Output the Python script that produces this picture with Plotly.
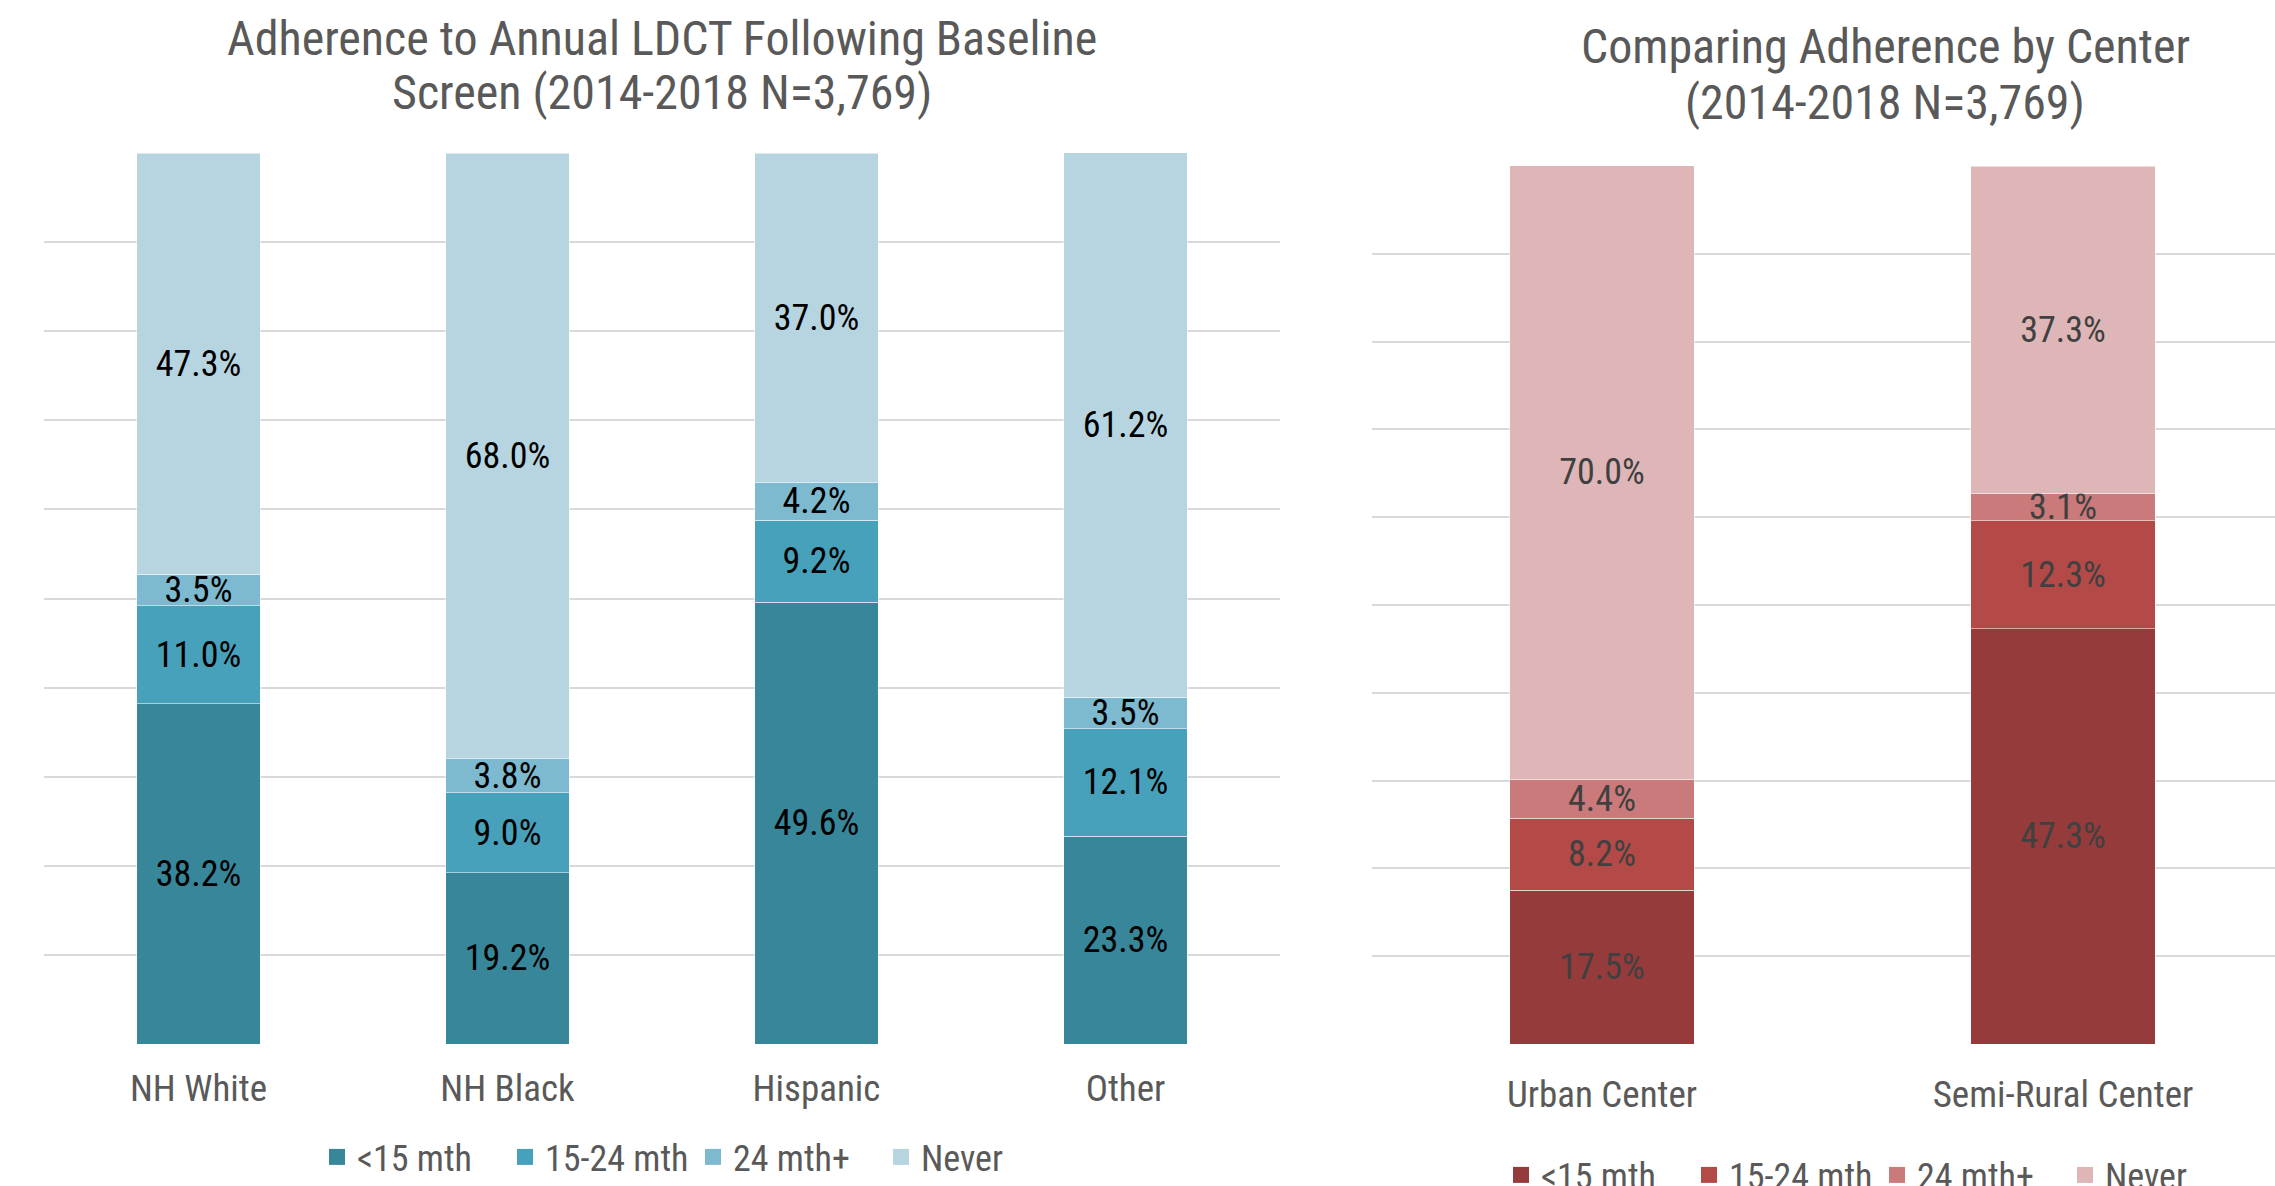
import plotly.graph_objects as go

# ---------------- data ----------------
race_categories = ["NH White", "NH Black", "Hispanic", "Other"]
center_categories = ["Urban Center", "Semi-Rural Center"]
series_names = ["<15 mth", "15-24 mth", "24 mth+", "Never"]

race_lt15 = [38.2, 19.2, 49.6, 23.3]
race_15_24 = [11.0, 9.0, 9.2, 12.1]
race_24plus = [3.5, 3.8, 4.2, 3.5]
race_never = [47.3, 68.0, 37.0, 61.2]

center_lt15 = [17.5, 47.3]
center_15_24 = [8.2, 12.3]
center_24plus = [4.4, 3.1]
center_never = [70.0, 37.3]

left_title_lines = ["Adherence to Annual LDCT Following Baseline", "Screen (2014-2018 N=3,769)"]
right_title_lines = ["Comparing Adherence by Center", "(2014-2018 N=3,769)"]

# ---------------- style ----------------
FONT = "Liberation Sans Narrow, Arial Narrow, Roboto Condensed, DejaVu Sans Condensed, sans-serif"
TEXT_GREY = "#595959"
GRID = "#D9D9D9"
teal_colors = ["#38869A", "#47A1BA", "#7DBACF", "#B7D5E0"]
red_colors = ["#963B3B", "#B34A48", "#CA7A7A", "#DEB6B7"]

W, H = 2275, 1186

fig = go.Figure()

race_series = [race_lt15, race_15_24, race_24plus, race_never]
center_series = [center_lt15, center_15_24, center_24plus, center_never]

for name, vals, col in zip(series_names, race_series, teal_colors):
    fig.add_trace(go.Bar(
        x=race_categories, y=vals, name=name,
        marker=dict(color=col, line=dict(color="rgba(255,255,255,0.5)", width=1)),
        text=[f"{v:.1f}%" for v in vals],
        textposition="inside", insidetextanchor="middle", textangle=0,
        constraintext="none",
        textfont=dict(family=FONT, size=36, color="#000000"),
        xaxis="x", yaxis="y", showlegend=False, hoverinfo="skip",
    ))
    fig.add_trace(go.Scatter(
        x=[None], y=[None], mode="markers", name=name,
        marker=dict(symbol="square", size=20, color=col),
        xaxis="x", yaxis="y", legend="legend", showlegend=True,
    ))

for name, vals, col in zip(series_names, center_series, red_colors):
    fig.add_trace(go.Bar(
        x=center_categories, y=vals, name=name,
        marker=dict(color=col, line=dict(color="rgba(255,255,255,0.5)", width=1)),
        text=[f"{v:.1f}%" for v in vals],
        textposition="inside", insidetextanchor="middle", textangle=0,
        constraintext="none",
        textfont=dict(family=FONT, size=36, color="#404040"),
        xaxis="x2", yaxis="y2", showlegend=False, hoverinfo="skip",
    ))
    fig.add_trace(go.Scatter(
        x=[None], y=[None], mode="markers", name=name,
        marker=dict(symbol="square", size=20, color=col),
        xaxis="x2", yaxis="y2", legend="legend2", showlegend=True,
    ))

left_dom = [44 / W, 1280 / W]
right_dom = [1371.5 / W, 1.0]
left_y = [(H - 1044) / H, (H - 153) / H]
right_y = [(H - 1044) / H, (H - 166) / H]

axis_x_common = dict(
    type="category", showgrid=False, zeroline=False, showline=False,
    ticks="", tickfont=dict(family=FONT, size=37, color=TEXT_GREY),
)
axis_y_common = dict(
    range=[0, 100], dtick=10, tick0=0, showgrid=True, gridcolor=GRID, gridwidth=1.5,
    zeroline=False, showline=False, showticklabels=False, ticks="",
)

legend_common = dict(
    orientation="h", xanchor="left", yanchor="middle", traceorder="normal",
    font=dict(family=FONT, size=36, color=TEXT_GREY), itemsizing="trace",
    entrywidth=143, entrywidthmode="pixels", bgcolor="rgba(0,0,0,0)",
)

title_font = dict(family=FONT, size=48, color=TEXT_GREY)
annotations = []
for line, yc in zip(left_title_lines, [39, 93]):
    annotations.append(dict(text=line, xref="paper", yref="paper", x=662 / W, y=1 - yc / H,
                            xanchor="center", yanchor="middle", showarrow=False, font=title_font))
for line, yc in zip(right_title_lines, [47, 102]):
    annotations.append(dict(text=line, xref="paper", yref="paper", x=1885 / W, y=1 - yc / H,
                            xanchor="center", yanchor="middle", showarrow=False, font=title_font))

fig.update_layout(
    width=W, height=H,
    margin=dict(l=0, r=0, t=0, b=0, autoexpand=False),
    paper_bgcolor="white", plot_bgcolor="white",
    barmode="stack", bargap=0.6,
    font=dict(family=FONT, color=TEXT_GREY),
    xaxis=dict(domain=left_dom, anchor="y", range=[-0.5, 3.5], ticklabelstandoff=19, **axis_x_common),
    yaxis=dict(domain=left_y, anchor="x", **axis_y_common),
    xaxis2=dict(domain=right_dom, anchor="y2", range=[-0.5, -0.5 + (W - 1371.5) / 461.0],
                ticklabelstandoff=25, **axis_x_common),
    yaxis2=dict(domain=right_y, anchor="x2", **axis_y_common),
    legend=dict(x=317 / W, y=1 - 1157 / H, **legend_common),
    legend2=dict(x=1501 / W, y=1 - 1175 / H, **legend_common),
    annotations=annotations,
)

fig.write_html("out.html")
